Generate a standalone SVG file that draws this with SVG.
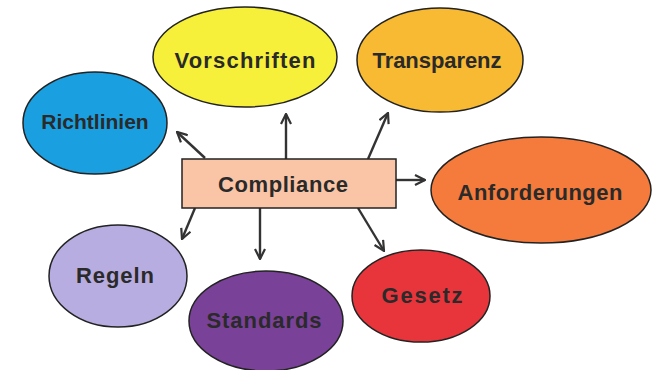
<svg xmlns="http://www.w3.org/2000/svg" width="655" height="370" viewBox="0 0 655 370">
<defs>
<marker id="ah" viewBox="0 0 12 12" refX="11" refY="6" markerWidth="12" markerHeight="12" markerUnits="userSpaceOnUse" orient="auto">
<path d="M1,1 L11,6 L1,11" fill="none" stroke="#333" stroke-width="2.2" stroke-linejoin="miter"/>
</marker>
<style>
.n{stroke:#222;stroke-width:1.5}
.t{font-family:"Liberation Sans",Arial,sans-serif;font-weight:bold;font-size:22px;fill:#2a2a2a;text-anchor:middle}
.c line{stroke:#333;stroke-width:2.4;marker-end:url(#ah)}
</style>
</defs>
<rect width="655" height="370" fill="#fff"/>
<g class="c" id="connectors">
<line x1="205" y1="158" x2="177" y2="132"/>
<line x1="286" y1="159" x2="286" y2="114"/>
<line x1="368" y1="159" x2="388" y2="113"/>
<line x1="396" y1="180" x2="425" y2="180"/>
<line x1="195" y1="208" x2="182" y2="239"/>
<line x1="260" y1="208" x2="260" y2="259"/>
<line x1="358" y1="208" x2="384" y2="251"/>
</g>
<g id="richtlinien"><ellipse class="n" cx="95" cy="123" rx="72" ry="51" fill="#1a9fe0"/><text class="t" x="95" y="129" style="font-size:21px">Richtlinien</text></g>
<g id="vorschriften"><ellipse class="n" cx="245" cy="57" rx="92" ry="50" fill="#f6f03a"/><text class="t" x="245" y="68" textLength="141">Vorschriften</text></g>
<g id="transparenz"><ellipse class="n" cx="440" cy="60" rx="83" ry="52" fill="#f7ba32"/><text class="t" x="437" y="68" textLength="129">Transparenz</text></g>
<g id="anforderungen"><ellipse class="n" cx="541" cy="190" rx="110" ry="53" fill="#f47b3b"/><text class="t" x="540" y="200" textLength="165">Anforderungen</text></g>
<g id="compliance"><rect class="n" x="182" y="159" width="214" height="49" fill="#f9c5a6"/><text class="t" x="283" y="192" textLength="130">Compliance</text></g>
<g id="regeln"><ellipse class="n" cx="118" cy="276" rx="69" ry="51" fill="#b8ade0"/><text class="t" x="115" y="283" textLength="78">Regeln</text></g>
<g id="standards"><ellipse class="n" cx="266" cy="321" rx="77" ry="50" fill="#7a4199"/><text class="t" x="264" y="328" textLength="115">Standards</text></g>
<g id="gesetz"><ellipse class="n" cx="421" cy="296" rx="69" ry="46" fill="#e8353c"/><text class="t" x="422" y="303" textLength="81">Gesetz</text></g>
</svg>
